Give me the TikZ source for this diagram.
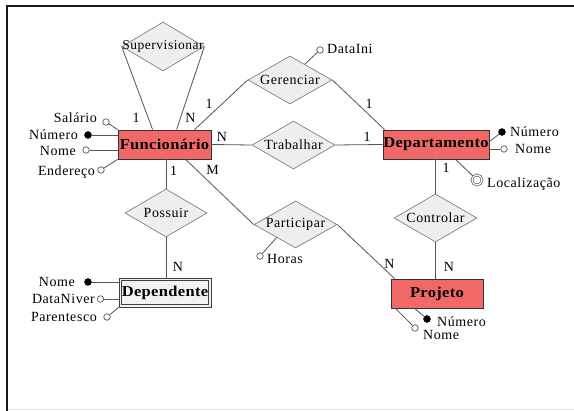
\documentclass[tikz,border=0pt]{standalone}
\usepackage{fontspec}
\usepackage{graphicx}
\setmainfont{Liberation Serif}[LetterSpace=4]
\newfontfamily\entfont{Liberation Serif Bold}[LetterSpace=2]
\usetikzlibrary{shapes.geometric,calc}
\definecolor{entred}{RGB}{240,104,104}
\definecolor{relfill}{RGB}{238,238,238}
\definecolor{relgray}{RGB}{128,128,128}
\definecolor{linegray}{RGB}{85,85,85}
\definecolor{depfill}{RGB}{242,242,242}
\newcommand{\entlabel}[1]{\scalebox{1.1}[1]{\entfont\fontsize{15}{15}\selectfont #1}}
\begin{document}
\begin{tikzpicture}[x=1pt,y=-1pt,
  ent/.style={draw=black!80, fill=entred, minimum height=29pt, inner sep=0pt, line width=0.8pt},
  weakent/.style={draw=black!75, fill=depfill, minimum width=92pt, minimum height=29pt, inner sep=0pt, line width=0.8pt},
  rel/.style={diamond, draw=relgray, fill=relfill, minimum width=83pt, minimum height=48pt, inner sep=0pt, line width=0.7pt},
  every label/.style={inner sep=0pt, font=\fontsize{14}{16}\selectfont},
  conn/.style={draw=linegray, line width=0.8pt},
  attr/.style={circle, draw=linegray, fill=white, minimum size=6.5pt, inner sep=0pt, line width=0.7pt},
  keyattr/.style={circle, draw=black, fill=black, minimum size=7pt, inner sep=0pt},
  multattr/.style={circle, draw=linegray, fill=white, minimum size=10pt, inner sep=0pt, line width=0.7pt, double=white, double distance=1.2pt},
  txt/.style={inner sep=0pt, font=\fontsize{14}{16}\selectfont},
  card/.style={inner sep=0pt, anchor=base, font=\fontsize{14}{16}\selectfont}]
\useasboundingbox (0,0) rectangle (574,411);
% frame
\draw[line width=2pt, black!90] (7,411) -- (7,6) -- (574,6);
\draw[line width=1pt, black!10] (8,409.5) -- (574,409.5);

% relationships
\node[rel, minimum width=82pt, minimum height=49pt, label={center:\fontsize{13.5}{15}\selectfont Supervisionar}] (sup) at (163,46.5) {};
\node[rel, minimum width=84pt, label={center:Gerenciar}] (ger) at (290,80) {};
\node[rel, label={center:Trabalhar}] (trab) at (293.5,145) {};
\node[rel, minimum width=82pt, label={center:Possuir}] (pos) at (166,213) {};
\node[rel, minimum height=47pt, label={center:Participar}] (part) at (295.5,224.5) {};
\node[rel, label={center:Controlar}] (ctrl) at (435.5,218) {};

% entities
\node[ent, minimum width=93pt] (fun) at (164.5,144.5) {\entlabel{Funcionário}};
\node[ent, minimum width=106pt] (dep) at (436,144.5) {\entlabel{Departamento}};
\node[ent, minimum width=92pt] (proj) at (437,293.5) {\entlabel{Projeto}};
\node[weakent] (depd) at (165,292.5) {\entlabel{Dependente}};
\draw[draw=black!75, line width=0.8pt] ([xshift=3pt,yshift=-3pt]depd.north west) rectangle ([xshift=-3pt,yshift=3pt]depd.south east);

% connectors
\draw[conn] (sup.west) -- ([xshift=35pt]fun.north west);
\draw[conn] (sup.east) -- ([xshift=59pt]fun.north west);
\draw[conn] (ger.west) -- ([xshift=77pt]fun.north west);
\draw[conn] (ger.east) -- ([xshift=2pt]dep.north west);
\draw[conn] (fun.east) -- (trab.west);
\draw[conn] (trab.east) -- (dep.west);
\draw[conn] (pos.north |- fun.south) -- (pos.north);
\draw[conn] (pos.south) -- (pos.south |- depd.north);
\draw[conn] ([xshift=68pt]fun.south west) -- (part.west);
\draw[conn] (part.east) -- ([xshift=4pt]proj.north west);
\draw[conn] (ctrl.north |- dep.south) -- (ctrl.north);
\draw[conn] (ctrl.south) -- (ctrl.south |- proj.north);

% cardinalities
\node[card] (c1) at (136,123) {1};
\node[card] (c2) at (190.5,123) {N};
\node[card] (c3) at (209,109) {1};
\node[card] (c4) at (222,142) {N};
\node[card] (c5) at (173.5,176) {1};
\node[card] (c6) at (212.5,175) {M};
\node[card] (c7) at (369,109) {1};
\node[card] (c8) at (367,142) {1};
\node[card] (c9) at (446,173) {1};
\node[card] (c10) at (178,272) {N};
\node[card] (c11) at (389.5,269) {N};
\node[card] (c12) at (449,272) {N};

% Funcionario attributes
\node[attr] (fsal) at (106,122) {};
\node[keyattr] (fnum) at (88,135) {};
\node[attr] (fnom) at (86,150) {};
\node[attr] (fend) at (101,170) {};
\draw[conn] (fsal) -- (fun.north west);
\draw[conn] (fnum) -- (fnum -| fun.west);
\draw[conn] (fnom) -- (fnom -| fun.west);
\draw[conn] (fend) -- (fun.south west);
\node[txt, anchor=base east] (tfsal) at (97,123) {Salário};
\node[txt, anchor=base east] (tfnum) at (78,140) {Número};
\node[txt, anchor=base east] (tfnom) at (76,156) {Nome};
\node[txt, anchor=base east] (tfend) at (95,176) {Endereço};

% Departamento attributes
\node[keyattr] (dnum) at (502,132) {};
\node[attr] (dnom) at (504,149) {};
\node[multattr] (dloc) at (477,180) {};
\draw[conn] ([yshift=3pt]dep.east) -- (dnum);
\draw[conn] (dnom -| dep.east) -- (dnom);
\draw[conn] ([xshift=73pt]dep.south west) -- (dloc);
\node[txt, anchor=base west] (tdnum) at (510,137) {Número};
\node[txt, anchor=base west] (tdnom) at (515,154) {Nome};
\node[txt, anchor=base west] (tdloc) at (487,188) {Localização};

% Gerenciar attribute
\node[attr] (gdat) at (320,50) {};
\draw[conn] ($(ger.north)!0.35!(ger.east)$) -- (gdat);
\node[txt, anchor=base west] (tgdat) at (327,54) {DataIni};

% Participar attribute
\node[attr] (phor) at (260,256) {};
\draw[conn] ($(part.west)!0.55!(part.south)$) -- (phor);
\node[txt, anchor=base west] (tphor) at (267,264) {Horas};

% Dependente attributes
\node[keyattr] (dnome) at (88,282) {};
\node[attr] (ddat) at (100.5,299) {};
\node[attr] (dpar) at (107,317) {};
\draw[conn] (dnome) -- (dnome -| depd.west);
\draw[conn] (ddat) -- (ddat -| depd.west);
\draw[conn] (dpar) -- (depd.south west);
\node[txt, anchor=base east] (tdnome) at (75,287) {Nome};
\node[txt, anchor=base east] (tddat) at (95,304) {DataNiver};
\node[txt, anchor=base east] (tdpar) at (97,322) {Parentesco};

% Projeto attributes
\node[keyattr] (pnum) at (427,319) {};
\node[attr] (pnom) at (415,328) {};
\draw[conn] ([xshift=24pt]proj.south west) -- (pnum);
\draw[conn] ([xshift=5pt]proj.south west) -- (pnom);
\node[txt, anchor=base west] (tpnum) at (437,326.5) {Número};
\node[txt, anchor=base west] (tpnom) at (423,340) {Nome};
\end{tikzpicture}
\end{document}
